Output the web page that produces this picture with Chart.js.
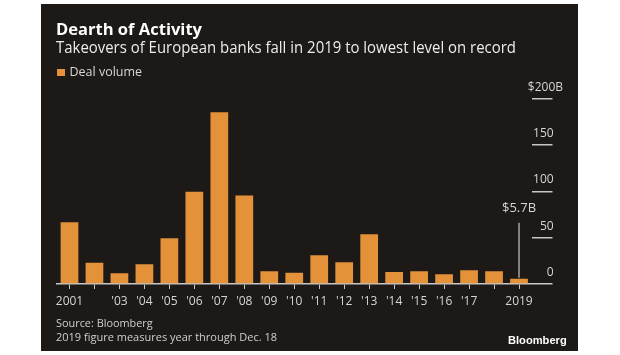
<!DOCTYPE html>
<html>
<head>
<meta charset="utf-8">
<script src="https://cdn.jsdelivr.net/npm/chart.js@4.4.1/dist/chart.umd.min.js"></script>
<style>
  html, body { margin: 0; padding: 0; background: #ffffff; width: 620px; height: 355px; overflow: hidden; }
  #panel { position: absolute; left: 41px; top: 4px; width: 537px; height: 347px; background: #1c1917; }
  #chartBox { position: absolute; left: 0; top: 0; width: 537px; height: 347px; }
  .t { position: absolute; white-space: nowrap; line-height: 1; transform-origin: 0 50%; font-family: "Open Sans", sans-serif; }
  #title { left: 15px; top: 17px; font-size: 16.5px; font-weight: 700; color: #ffffff; }
  #subtitle { left: 15px; top: 36.2px; font-size: 15.5px; color: #ececec; }
  #legend { left: 16px; top: 62.4px; font-size: 12.5px; color: #d6d6d6; }
  #legend .sw { display: inline-block; width: 7.5px; height: 7.5px; margin-right: 5px; vertical-align: 0px; }
  #src1 { left: 15px; top: 312.9px; font-size: 11.5px; color: #d0d0d0; }
  #src2 { left: 15px; top: 326.6px; font-size: 11.5px; color: #d0d0d0; }
  #brand { left: 467px; top: 331.4px; font-size: 11.5px; font-weight: 700; color: #ffffff; font-family: "Liberation Sans", Arial, sans-serif; }
</style>
</head>
<body>
<div id="panel">
  <div id="chartBox"><canvas id="chart" width="537" height="347"></canvas></div>
  <div class="t" id="title" data-w="146">Dearth of Activity</div>
  <div class="t" id="subtitle" data-w="460">Takeovers of European banks fall in 2019 to lowest level on record</div>
  <div class="t" id="legend"><span class="sw" id="legendSwatch"></span><span id="legendText">Deal volume</span></div>
  <div class="t" id="src1" data-w="96.7">Source: Bloomberg</div>
  <div class="t" id="src2" data-w="221">2019 figure measures year through Dec. 18</div>
  <div class="t" id="brand" data-w="58.7">Bloomberg</div>
</div>
<script>
// ---- data ----
const years = ['2001','2002','2003','2004','2005','2006','2007','2008','2009','2010',
               '2011','2012','2013','2014','2015','2016','2017','2018','2019'];
const xTickLabels = ['2001','',"'03","'04","'05","'06","'07","'08","'09","'10",
                     "'11","'12","'13","'14","'15","'16","'17",'','2019'];
const dealVolume = [66.6, 23.0, 11.5, 21.3, 49.3, 99.7, 185.4, 95.7, 13.7, 12.2,
                    31.0, 23.4, 53.6, 13.0, 13.7, 10.5, 14.8, 13.7, 5.7];
const yTickValues = [0, 50, 100, 150, 200];
const yTickLabels = ['0', '50', '100', '150', '$200B'];
const seriesName = 'Deal volume';
const annotationYear = '2019';
const annotationLabel = '$5.7B';

// ---- styles ----
const barColor = '#e3923a';
const textColor = '#d6d6d6';
const axisColor = '#c8c8c8';
const FONT = '"Open Sans", sans-serif';

document.getElementById('legendSwatch').style.background = barColor;
document.getElementById('legendText').textContent = seriesName;

// fit header/footer text widths
document.querySelectorAll('.t[data-w]').forEach(el => {
  const target = parseFloat(el.dataset.w);
  const w = el.getBoundingClientRect().width;
  if (w > 0) el.style.transform = 'scaleX(' + (target / w) + ')';
});

const annotationPlugin = {
  id: 'annotation2019',
  afterDatasetsDraw(chart) {
    const idx = years.indexOf(annotationYear);
    const bar = chart.getDatasetMeta(0).data[idx];
    if (!bar) return;
    const ctx = chart.ctx;
    ctx.save();
    ctx.strokeStyle = axisColor;
    ctx.lineWidth = 1.2;
    ctx.beginPath();
    ctx.moveTo(bar.x, bar.y - 1);
    ctx.lineTo(bar.x, bar.y - 56);
    ctx.stroke();
    ctx.fillStyle = textColor;
    ctx.font = '13px ' + FONT;
    ctx.textAlign = 'center';
    ctx.textBaseline = 'middle';
    ctx.fillText(annotationLabel, bar.x, bar.y - 70);
    ctx.restore();
  }
};

new Chart(document.getElementById('chart'), {
  type: 'bar',
  data: {
    labels: years,
    datasets: [{
      label: seriesName,
      data: dealVolume,
      backgroundColor: barColor,
      borderWidth: 0,
      barPercentage: 0.71,
      categoryPercentage: 1.0
    }]
  },
  options: {
    responsive: false,
    animation: false,
    devicePixelRatio: 1,
    layout: { padding: { top: 94.8, left: 16, right: 15, bottom: 42 } },
    plugins: { legend: { display: false }, tooltip: { enabled: false } },
    scales: {
      x: {
        type: 'category',
        offset: true,
        grid: { offset: false, drawOnChartArea: false, drawTicks: true, tickLength: 5, color: axisColor, lineWidth: 1 },
        border: { display: true, color: axisColor, width: 1.5 },
        ticks: {
          autoSkip: false, maxRotation: 0, minRotation: 0,
          color: textColor, font: { family: FONT, size: 12 }, padding: 5,
          callback: (v, i) => xTickLabels[i]
        },
        afterFit: s => { s.height = 25; }
      },
      y: {
        position: 'right',
        min: 0, max: 200,
        afterBuildTicks: s => { s.ticks = yTickValues.map(v => ({ value: v })); },
        grid: { drawOnChartArea: false, drawTicks: true, tickLength: 21, color: axisColor, lineWidth: 1.5 },
        border: { display: false },
        ticks: {
          mirror: true, padding: 31.5, labelOffset: -11.5,
          color: textColor, font: { family: FONT, size: 12 },
          callback: (v) => {
            const i = yTickValues.indexOf(v);
            const lab = i >= 0 ? yTickLabels[i] : '';
            return lab.endsWith('B') ? lab : lab + '   ';
          }
        },
        afterFit: s => { s.width = 31.5; }
      }
    }
  },
  plugins: [annotationPlugin]
});
</script>
</body>
</html>
